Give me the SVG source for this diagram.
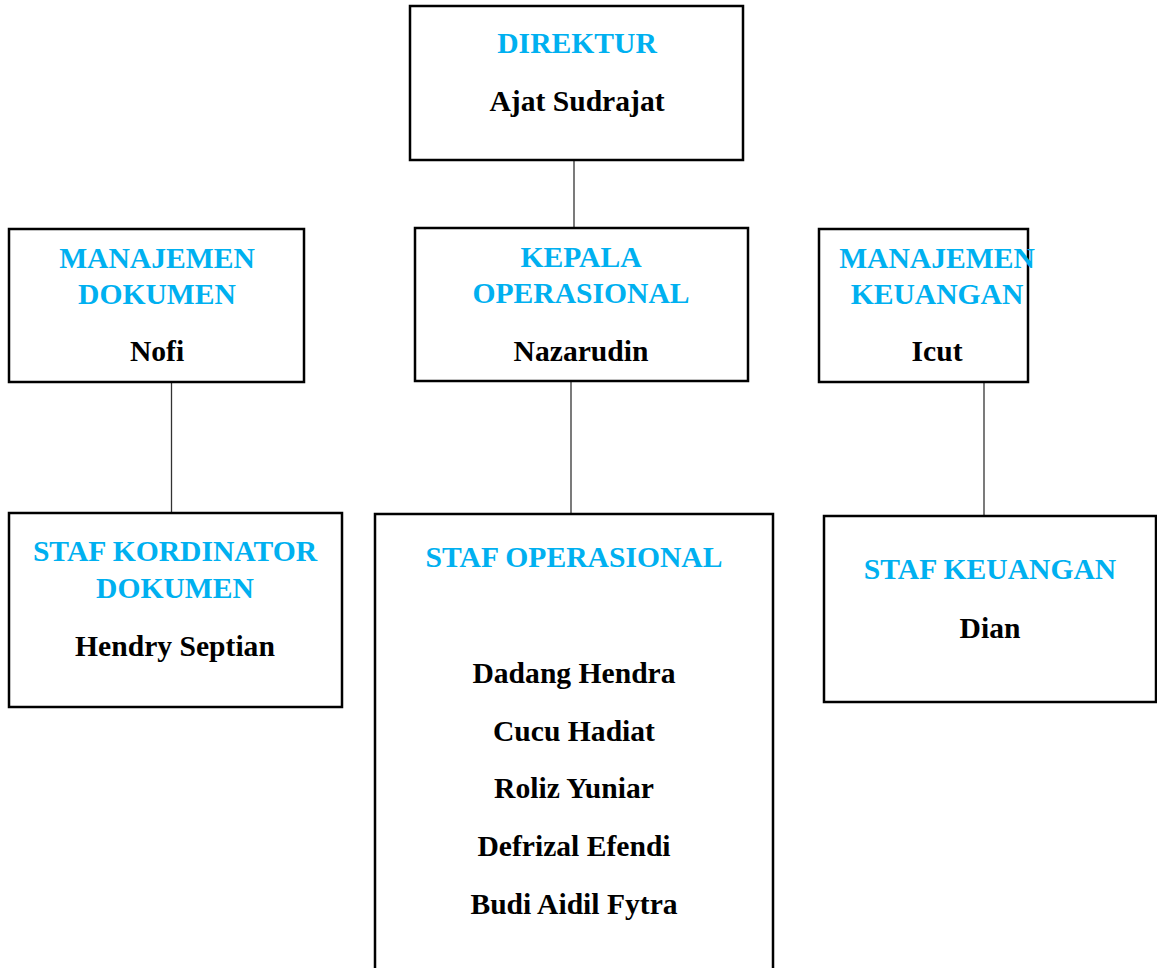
<svg xmlns="http://www.w3.org/2000/svg" width="1157" height="968" viewBox="0 0 1157 968">
<style>
.box{fill:#fff;stroke:#000;stroke-width:2.5}
.t{font-family:"Liberation Serif","Times New Roman",serif;font-weight:bold;font-size:29.6px;text-anchor:middle}
.h{fill:#00B0F0}
.n{fill:#000}
.c{stroke:#333;stroke-width:1.3;fill:none}
</style>
<rect width="1157" height="968" fill="#fff"/>
<g id="connectors">
<line class="c" x1="574" y1="160" x2="574" y2="228"/>
<line class="c" x1="171.5" y1="382" x2="171.5" y2="513"/>
<line class="c" x1="571" y1="381" x2="571" y2="514"/>
<line class="c" x1="984" y1="382" x2="984" y2="516"/>
</g>
<g id="direktur">
<rect class="box" x="410" y="6" width="333" height="154"/>
<text class="t h" x="577" y="53">DIREKTUR</text>
<text class="t n" x="577" y="111">Ajat Sudrajat</text>
</g>
<g id="manajemen-dokumen">
<rect class="box" x="9" y="229" width="295" height="153"/>
<text class="t h" x="157" y="268">MANAJEMEN</text>
<text class="t h" x="157" y="304">DOKUMEN</text>
<text class="t n" x="157" y="361">Nofi</text>
</g>
<g id="kepala-operasional">
<rect class="box" x="415" y="228" width="333" height="153"/>
<text class="t h" x="581" y="267">KEPALA</text>
<text class="t h" x="581" y="303">OPERASIONAL</text>
<text class="t n" x="581" y="361">Nazarudin</text>
</g>
<g id="manajemen-keuangan">
<rect class="box" x="819" y="229" width="209" height="153"/>
<text class="t h" x="937" y="268">MANAJEMEN</text>
<text class="t h" x="937" y="304">KEUANGAN</text>
<text class="t n" x="937" y="361">Icut</text>
</g>
<g id="staf-kordinator-dokumen">
<rect class="box" x="9" y="513" width="333" height="194"/>
<text class="t h" x="175" y="561">STAF KORDINATOR</text>
<text class="t h" x="175" y="598">DOKUMEN</text>
<text class="t n" x="175" y="656">Hendry Septian</text>
</g>
<g id="staf-operasional">
<rect class="box" x="375" y="514" width="398" height="470"/>
<text class="t h" x="574" y="567">STAF OPERASIONAL</text>
<text class="t n" x="574" y="683">Dadang Hendra</text>
<text class="t n" x="574" y="741">Cucu Hadiat</text>
<text class="t n" x="574" y="798">Roliz Yuniar</text>
<text class="t n" x="574" y="856">Defrizal Efendi</text>
<text class="t n" x="574" y="914">Budi Aidil Fytra</text>
</g>
<g id="staf-keuangan">
<rect class="box" x="824" y="516" width="332" height="186"/>
<text class="t h" x="990" y="579">STAF KEUANGAN</text>
<text class="t n" x="990" y="638">Dian</text>
</g>
</svg>
